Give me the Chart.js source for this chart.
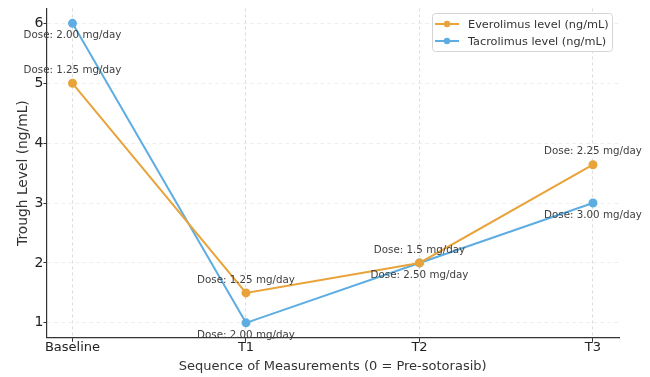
<!DOCTYPE html>
<html><head><meta charset="utf-8">
<script src="https://cdn.jsdelivr.net/npm/chart.js@4"></script>
<style>html,body{margin:0;padding:0;background:#fff}#wrap{width:650px;height:377px}</style>
</head><body><div id="wrap"><canvas id="c"></canvas></div>
<script>
const categories = ['Baseline', 'T1', 'T2', 'T3'];
const everolimus = [5, 1.5, 2, 3.64];
const tacrolimus = [6, 1, 2, 3];
const everolimusDose = ['Dose: 1.25 mg/day', 'Dose: 1.25 mg/day', 'Dose: 1.5 mg/day', 'Dose: 2.25 mg/day'];
const tacrolimusDose = ['Dose: 2.00 mg/day', 'Dose: 2.00 mg/day', 'Dose: 2.50 mg/day', 'Dose: 3.00 mg/day'];
const yTicks = [1, 2, 3, 4, 5, 6];

const ORANGE = '#E8A33A', BLUE = '#5DADE2';
const FONT = '"DejaVu Sans", sans-serif';

const doseLabels = {
  id: 'doseLabels',
  afterDatasetsDraw(chart) {
    const ctx = chart.ctx;
    ctx.save();
    ctx.font = '10.3px ' + FONT;
    ctx.fillStyle = '#404040';
    ctx.textAlign = 'center';
    ctx.textBaseline = 'middle';
    chart.data.datasets.forEach((ds, di) => {
      const meta = chart.getDatasetMeta(di);
      meta.data.forEach((pt, i) => {
        ctx.fillText(ds.doses[i], pt.x, pt.y + ds.labelOffset);
      });
    });
    ctx.restore();
  }
};

const customLegend = {
  id: 'customLegend',
  afterDraw(chart) {
    const ctx = chart.ctx;
    const x = 432, y = 13, w = 180, h = 38;
    ctx.save();
    ctx.fillStyle = 'rgba(255,255,255,0.85)';
    ctx.strokeStyle = '#d5d5d5';
    ctx.lineWidth = 1;
    ctx.beginPath();
    ctx.roundRect(x + 0.5, y + 0.5, w, h, 3);
    ctx.fill(); ctx.stroke();
    ctx.font = '11.3px ' + FONT;
    ctx.textBaseline = 'middle';
    ctx.textAlign = 'left';
    chart.data.datasets.forEach((ds, i) => {
      const ly = y + 11 + i * 17;
      ctx.strokeStyle = ds.borderColor;
      ctx.lineWidth = 2;
      ctx.beginPath(); ctx.moveTo(x + 3, ly); ctx.lineTo(x + 27, ly); ctx.stroke();
      ctx.fillStyle = ds.borderColor;
      ctx.beginPath(); ctx.arc(x + 15, ly, 3.2, 0, Math.PI * 2); ctx.fill();
      ctx.fillStyle = '#333';
      ctx.fillText(ds.label, x + 36, ly + 1);
    });
    ctx.restore();
  }
};

new Chart(document.getElementById('c'), {
  type: 'line',
  data: {
    datasets: [
      { label: 'Everolimus level (ng/mL)', data: everolimus.map((v, i) => ({ x: i, y: v })),
        borderColor: ORANGE, backgroundColor: ORANGE, pointBackgroundColor: ORANGE, pointBorderColor: ORANGE,
        borderWidth: 2, pointRadius: 3.5, tension: 0, doses: everolimusDose, labelOffset: -13 },
      { label: 'Tacrolimus level (ng/mL)', data: tacrolimus.map((v, i) => ({ x: i, y: v })),
        borderColor: BLUE, backgroundColor: BLUE, pointBackgroundColor: BLUE, pointBorderColor: BLUE,
        borderWidth: 2, pointRadius: 3.5, tension: 0, doses: tacrolimusDose, labelOffset: 12 }
    ]
  },
  options: {
    responsive: true, maintainAspectRatio: false, animation: false,
    layout: { padding: { top: 7, right: 31, left: 10, bottom: 3 } },
    plugins: { legend: { display: false }, tooltip: { enabled: false } },
    scales: {
      x: {
        type: 'linear', min: -0.15, max: 3.15,
        afterBuildTicks: (s) => { s.ticks = categories.map((c, i) => ({ value: i })); },
        ticks: { callback: (v) => categories[v], color: '#222', font: { family: FONT, size: 13 }, padding: -2, maxRotation: 0 },
        grid: { color: '#dddddd', tickColor: '#333', tickLength: 4, lineWidth: 1 },
        border: { display: true, color: '#333', width: 1.2, dash: [3, 3] },
        title: { display: true, text: 'Sequence of Measurements (0 = Pre-sotorasib)', color: '#333', font: { family: FONT, size: 13 }, padding: { top: 5, bottom: 0 } }
      },
      y: {
        min: 0.75, max: 6.25,
        afterBuildTicks: (s) => { s.ticks = yTicks.map(v => ({ value: v })); },
        ticks: { color: '#222', font: { family: FONT, size: 14 }, padding: 0 },
        grid: { color: '#eeeeee', tickColor: '#333', tickLength: 3, lineWidth: 1 },
        border: { display: true, color: '#333', width: 1.2, dash: [4, 3] },
        title: { display: true, text: 'Trough Level (ng/mL)', color: '#333', font: { family: FONT, size: 13.8 }, padding: { top: 5, bottom: 3 } }
      }
    }
  },
  plugins: [doseLabels, customLegend]
});
</script></body></html>
